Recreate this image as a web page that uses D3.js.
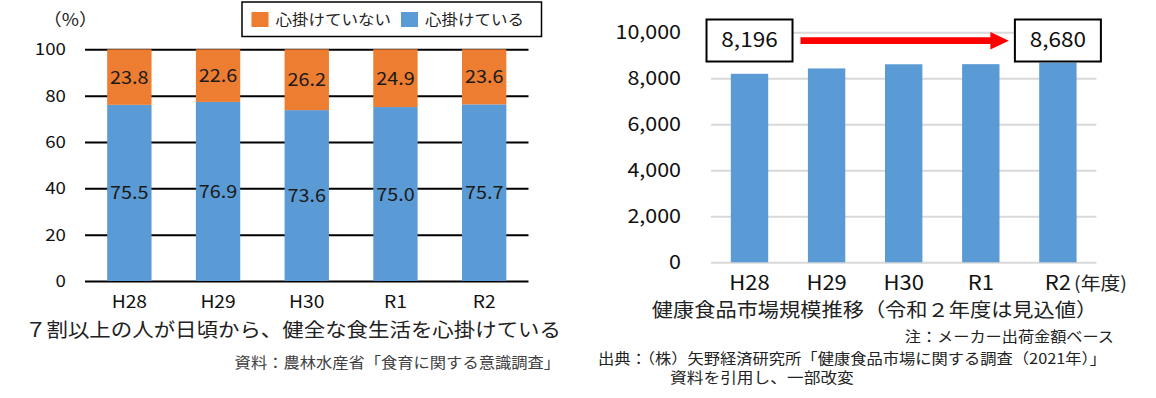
<!DOCTYPE html>
<html>
<head>
<meta charset="utf-8">
<script src="https://cdn.jsdelivr.net/npm/d3@7"></script>
<style>
  body { margin: 0; background: #fff; }
  svg { display: block; font-family: "Noto Sans CJK JP", sans-serif; }
  .ax .domain { display: none; }
</style>
</head>
<body>
<svg width="1156" height="398"></svg>
<script>
// left chart data
const years = ['H28', 'H29', 'H30', 'R1', 'R2'];
const careYes = [75.5, 76.9, 73.6, 75.0, 75.7];
const careNo = [23.8, 22.6, 26.2, 24.9, 23.6];
const pctTicks = [0, 20, 40, 60, 80, 100];

// right chart data
const marketYears = ['H28', 'H29', 'H30', 'R1', 'R2'];
const marketSize = [8196, 8430, 8610, 8615, 8680];
const marketTicks = [0, 2000, 4000, 6000, 8000, 10000];

const BLUE = '#5b9bd5';
const ORANGE = '#ed7d31';
const SX = 1.1; // the source picture is a bit wider than tall

let svg = d3.select('svg');

const addText = (x, y, txt, size, anchor, fill) => {
    return svg.append('text')
        .attr('transform', `translate(${x},${y}) scale(${SX},1)`)
        .attr('dy', '0.36em')
        .attr('text-anchor', anchor || 'start')
        .attr('font-size', size)
        .attr('fill', fill || '#222')
        .text(txt);
}

const styleAxisText = (g, size, shiftX) => {
    g.selectAll('text')
        .attr('font-size', size)
        .attr('fill', '#111')
        .attr('font-family', '"Noto Sans CJK JP", sans-serif')
        .attr('x', 0)
        .attr('transform', `translate(${shiftX},0) scale(${SX},1)`);
}

const drawLeft = () => {
    let rows = years.map((y, i) => ({ year: y, yes: careYes[i], no: careNo[i] }));
    let series = d3.stack().keys(['yes', 'no']).offset(d3.stackOffsetExpand)(rows);

    let xScale = d3.scaleBand()
        .domain(years)
        .range([85, 528.5])
        .paddingInner(0.5)
        .paddingOuter(0.25);
    let yScale = d3.scaleLinear()
        .domain([0, 100])
        .range([281, 49.3]);

    let yAxis = d3.axisLeft(yScale)
        .tickValues(pctTicks)
        .tickSize(-443.5)
        .tickPadding(19);

    let g = svg.append('g')
        .attr('class', 'ax')
        .attr('transform', 'translate(85,0)')
        .call(yAxis);
    g.selectAll('line').attr('stroke', '#000').attr('stroke-width', 2);
    styleAxisText(g, 17, -19);

    let colors = { yes: BLUE, no: ORANGE };
    series.forEach(s => {
        svg.append('g')
            .selectAll('rect')
            .data(s)
            .enter()
            .append('rect')
            .attr('x', d => xScale(d.data.year))
            .attr('width', xScale.bandwidth())
            .attr('y', d => yScale(d[1] * 100))
            .attr('height', d => yScale(d[0] * 100) - yScale(d[1] * 100))
            .attr('fill', colors[s.key]);

        s.forEach(d => {
            addText(xScale(d.data.year) + xScale.bandwidth() / 2,
                yScale((d[0] + d[1]) / 2 * 100),
                d.data[s.key].toFixed(1), 18, 'middle', '#1a1a1a');
        });
    });

    let xAxis = d3.axisBottom(xScale).tickSize(0).tickPadding(15);
    let xg = svg.append('g')
        .attr('class', 'ax')
        .attr('transform', 'translate(0,281)')
        .call(xAxis);
    styleAxisText(xg, 17.5, 0);

    addText(43, 20, '（%）', 17);

    // legend
    svg.append('rect')
        .attr('x', 242).attr('y', 2)
        .attr('width', 299.5).attr('height', 34.5)
        .attr('fill', '#fff').attr('stroke', '#000').attr('stroke-width', 1.5);
    let legend = [
        { label: '心掛けていない', color: ORANGE, x: 251.5 },
        { label: '心掛けている', color: BLUE, x: 401 }
    ];
    legend.forEach(l => {
        svg.append('rect')
            .attr('x', l.x).attr('y', 12)
            .attr('width', 17).attr('height', 15)
            .attr('fill', l.color);
        addText(l.x + 24, 19.5, l.label, 15);
    });

    addText(293, 330, '７割以上の人が日頃から、健全な食生活を心掛けている', 19.5, 'middle');
    addText(560, 363, '資料：農林水産省「食育に関する意識調査」', 14.8, 'end', '#404040');
}

const drawRight = () => {
    let xScale = d3.scaleBand()
        .domain(marketYears)
        .range([711, 1096.4])
        .paddingInner(0.515)
        .paddingOuter(0.257);
    let yScale = d3.scaleLinear()
        .domain([0, 10000])
        .range([262.3, 32.3]);

    let yAxis = d3.axisLeft(yScale)
        .tickValues(marketTicks)
        .tickFormat(d3.format(','))
        .tickSize(-385.4)
        .tickPadding(30);

    let g = svg.append('g')
        .attr('class', 'ax')
        .attr('transform', 'translate(711,0)')
        .call(yAxis);
    g.selectAll('line').attr('stroke', '#d9d9d9').attr('stroke-width', 2);
    styleAxisText(g, 19.5, -30);

    svg.append('g')
        .selectAll('rect')
        .data(marketSize)
        .enter()
        .append('rect')
        .attr('x', (d, i) => xScale(marketYears[i]))
        .attr('width', xScale.bandwidth())
        .attr('y', d => yScale(d))
        .attr('height', d => yScale(0) - yScale(d))
        .attr('fill', BLUE);

    let xAxis = d3.axisBottom(xScale).tickSize(0).tickPadding(14);
    let xg = svg.append('g')
        .attr('class', 'ax')
        .attr('transform', 'translate(0,262.3)')
        .call(xAxis);
    styleAxisText(xg, 20, 0);

    addText(1074, 284, '(年度)', 18);

    // first and last value boxes
    let first = 0;
    let last = marketSize.length - 1;
    [first, last].forEach(i => {
        let cx = xScale(marketYears[i]) + xScale.bandwidth() / 2;
        svg.append('rect')
            .attr('x', cx - 43).attr('y', 19.5)
            .attr('width', 86).attr('height', 42)
            .attr('fill', '#fff').attr('stroke', '#000').attr('stroke-width', 2);
        addText(cx, 40, d3.format(',')(marketSize[i]), 20.5, 'middle', '#111');
    });

    // red arrow between the boxes
    let x0 = xScale(marketYears[first]) + xScale.bandwidth() / 2 + 51;
    let x1 = xScale(marketYears[last]) + xScale.bandwidth() / 2 - 49;
    svg.append('line')
        .attr('x1', x0).attr('x2', x1 - 16)
        .attr('y1', 40.7).attr('y2', 40.7)
        .attr('stroke', '#ff0000').attr('stroke-width', 6.7);
    svg.append('path')
        .attr('d', `M${x1 - 18.5},32 L${x1},40.7 L${x1 - 18.5},49.4 Z`)
        .attr('fill', '#ff0000');

    addText(874.5, 310, '健康食品市場規模推移（令和２年度は見込値）', 19.3, 'middle');
    addText(1114, 337, '注：メーカー出荷金額ベース', 14.7, 'end');
    addText(598, 358.5, '出典：（株）矢野経済研究所「健康食品市場に関する調査（2021年）」', 14.8);
    addText(670, 378, '資料を引用し、一部改変', 15.2);
}

drawLeft();
drawRight();
</script>
</body>
</html>
